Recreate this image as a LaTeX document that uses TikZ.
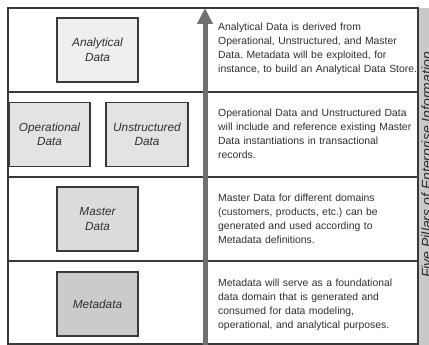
\documentclass[tikz,border=0pt]{standalone}
\usepackage{fontspec}
\setmainfont{Liberation Sans}
\frenchspacing
\usetikzlibrary{arrows.meta}
\definecolor{framegray}{HTML}{3A3A3A}
\definecolor{txtgray}{HTML}{2E2E2E}
\definecolor{arrowgray}{HTML}{707070}
\definecolor{stripgray}{HTML}{C9C9C9}
\definecolor{fillA}{HTML}{EFEFEF}
\definecolor{fillB}{HTML}{E3E3E3}
\definecolor{fillC}{HTML}{DCDCDC}
\definecolor{fillD}{HTML}{CBCBCB}
\begin{document}
\begin{tikzpicture}[
  x=1pt, y=-1pt,
  grid/.style={draw=framegray, line width=1.2pt},
  dbox/.style={draw=framegray, line width=1.3pt, minimum width=81pt, minimum height=64pt,
    align=center, text=txtgray, font=\itshape\fontsize{11.8}{14.5}\selectfont},
  desc/.style={anchor=west, inner sep=0pt, text width=205pt, align=left, text=txtgray,
    font=\fontsize{10.4}{14}\selectfont}
]
\useasboundingbox (0,0) rectangle (429,345);
\clip (0,0) rectangle (429,345);

% side strip
\fill[stripgray] (418,8) rectangle (435,350);
\node[rotate=90, anchor=base, text=txtgray, font=\itshape\fontsize{14}{16}\selectfont]
  (pillars) at (431.5,165) {Five Pillars of Enterprise Information};

% frame and rows
\draw[grid] (8,8) rectangle (418,344);
\draw[grid] (8,92) -- (418,92);
\draw[grid] (8,177) -- (418,177);
\draw[grid] (8,261) -- (418,261);

% data boxes
\node[dbox, fill=fillA] (analytical) at (97.5,50) {Analytical\\Data};
\node[dbox, fill=fillB] (operational) at (49.5,134.5) {Operational\\Data};
\node[dbox, fill=fillB, minimum width=82pt] (unstructured) at (147,134.5) {Unstructured\\Data};
\node[dbox, fill=fillC] (master) at (97.5,219) {Master\\Data};
\node[dbox, fill=fillD] (metadata) at (97.5,304) {Metadata};

% descriptions
\node[desc] (descA) at (218,49) {Analytical Data is derived from\\Operational, Unstructured, and Master\\Data. Metadata will be exploited, for\\instance, to build an Analytical Data Store.};
\node[desc] (descB) at (218,134) {Operational Data and Unstructured Data\\will include and reference existing Master\\Data instantiations in transactional\\records.};
\node[desc] (descC) at (218,219) {Master Data for different domains\\(customers, products, etc.) can be\\generated and used according to\\Metadata definitions.};
\node[desc] (descD) at (218,305) {Metadata will serve as a foundational\\data domain that is generated and\\consumed for data modeling,\\operational, and analytical purposes.};

% upward arrow
\coordinate (arrowbot) at (205,350);
\coordinate (arrowtop) at (205,8);
\draw[arrowgray, line width=5pt, -{Triangle[width=15pt,length=16pt]}] (arrowbot) -- (arrowtop);

\end{tikzpicture}
\end{document}
